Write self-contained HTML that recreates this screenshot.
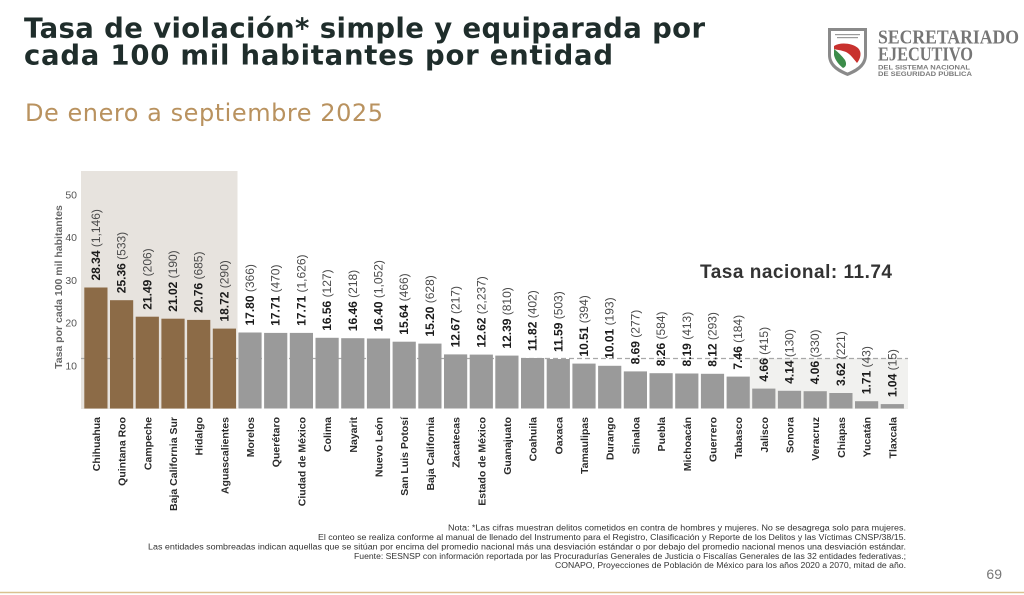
<!DOCTYPE html>
<html>
<head>
<meta charset="utf-8">
<style>
  html,body{margin:0;padding:0;background:#fff;}
  body{width:1024px;height:595px;overflow:hidden;}
  svg{display:block;}
</style>
</head>
<body>
<svg width="1024" height="595" viewBox="0 0 1024 595" xmlns="http://www.w3.org/2000/svg">
  <rect x="0" y="0" width="1024" height="595" fill="#ffffff"/>

  <!-- Title -->
  <text x="24" y="37.5" font-family="DejaVu Sans, Liberation Sans, sans-serif" font-weight="bold" font-size="27.5" fill="#1f2d2b" textLength="681" lengthAdjust="spacing">Tasa de violación* simple y equiparada por</text>
  <text x="24" y="64.5" font-family="DejaVu Sans, Liberation Sans, sans-serif" font-weight="bold" font-size="27.5" fill="#1f2d2b" textLength="589" lengthAdjust="spacing">cada 100 mil habitantes por entidad</text>
  <text x="25" y="121" font-family="DejaVu Sans, Liberation Sans, sans-serif" font-size="24" fill="#b9925f" textLength="358" lengthAdjust="spacing">De enero a septiembre 2025</text>

  <!-- Logo -->
  <path d="M828,28 H867 V55 C867,66 858,72 847.5,76 C837,72 828,66 828,55 Z" fill="#8a8a8a"/>
  <path d="M831,31 H864 V55 C864,64 856,69 847.5,72.5 C839,69 831,64 831,55 Z" fill="#ffffff"/>
  <rect x="835" y="34" width="25" height="1.2" fill="#9a9a9a"/>
  <rect x="837" y="37" width="21" height="1.2" fill="#9a9a9a"/>
  <path d="M834,46 C840,42 852,43 858,48 C862,52 861,58 857,63 C853,58 850,54 846,52 C841,50 837,50 834,49 Z" fill="#c8312e"/>
  <path d="M834,49 C838,52 842,56 845,60 C847,64 846,67 843,68 C839,65 835,60 834,55 Z" fill="#3c8c4a"/>
  <text x="878" y="43.5" font-family="Liberation Serif, serif" font-weight="bold" font-size="20" fill="#767676" textLength="141" lengthAdjust="spacingAndGlyphs">SECRETARIADO</text>
  <text x="878" y="60.5" font-family="Liberation Serif, serif" font-weight="bold" font-size="20" fill="#767676" textLength="95" lengthAdjust="spacingAndGlyphs">EJECUTIVO</text>
  <text x="878" y="69.5" font-family="Liberation Sans, sans-serif" font-weight="bold" font-size="6.2" fill="#7a7a7a" textLength="92" lengthAdjust="spacingAndGlyphs">DEL SISTEMA NACIONAL</text>
  <text x="878" y="76" font-family="Liberation Sans, sans-serif" font-weight="bold" font-size="6.2" fill="#7a7a7a" textLength="94" lengthAdjust="spacingAndGlyphs">DE SEGURIDAD PÚBLICA</text>

  <!-- Shaded regions -->
  <rect x="81" y="171" width="156.5" height="238" fill="#e7e3de"/>
  <rect x="750" y="358.5" width="158" height="50.5" fill="#f1f1ef"/>

  <!-- National dashed line -->
  <line x1="81" y1="358.5" x2="908" y2="358.5" stroke="#a8a8a8" stroke-width="1.3" stroke-dasharray="5,3"/>
  <text x="700" y="278" font-family="Liberation Sans, sans-serif" font-weight="bold" font-size="19" fill="#333333" textLength="192" lengthAdjust="spacing">Tasa nacional: 11.74</text>

  <!-- Y axis -->
  <g font-family="Liberation Sans, sans-serif" font-size="10.5" fill="#555555" text-anchor="end">
    <text x="77" y="369.3">10</text>
    <text x="77" y="326.6">20</text>
    <text x="77" y="283.9">30</text>
    <text x="77" y="241.2">40</text>
    <text x="77" y="198.5">50</text>
  </g>
  <text transform="translate(61.8,287) rotate(-90)" text-anchor="middle" font-family="Liberation Sans, sans-serif" font-weight="bold" font-size="10.5" fill="#666666">Tasa por cada 100 mil habitantes</text>

  <!-- Bars -->
  <g fill="#8c6b47">
    <rect x="84.3" y="287.5" width="23.2" height="121"/>
    <rect x="110.0" y="300.2" width="23.2" height="108.3"/>
    <rect x="135.7" y="316.7" width="23.2" height="91.8"/>
    <rect x="161.4" y="318.7" width="23.2" height="89.8"/>
    <rect x="187.1" y="319.9" width="23.2" height="88.6"/>
    <rect x="212.8" y="328.6" width="23.2" height="79.9"/>
  </g>
  <g fill="#9a9a9a">
    <rect x="238.4" y="332.5" width="23.2" height="76"/>
    <rect x="264.1" y="332.9" width="23.2" height="75.6"/>
    <rect x="289.8" y="332.9" width="23.2" height="75.6"/>
    <rect x="315.5" y="337.8" width="23.2" height="70.7"/>
    <rect x="341.2" y="338.2" width="23.2" height="70.3"/>
    <rect x="366.9" y="338.5" width="23.2" height="70"/>
    <rect x="392.6" y="341.7" width="23.2" height="66.8"/>
    <rect x="418.3" y="343.6" width="23.2" height="64.9"/>
    <rect x="444.0" y="354.4" width="23.2" height="54.1"/>
    <rect x="469.7" y="354.6" width="23.2" height="53.9"/>
    <rect x="495.3" y="355.6" width="23.2" height="52.9"/>
    <rect x="521.0" y="358.0" width="23.2" height="50.5"/>
    <rect x="546.7" y="359.0" width="23.2" height="49.5"/>
    <rect x="572.4" y="363.6" width="23.2" height="44.9"/>
    <rect x="598.1" y="365.8" width="23.2" height="42.7"/>
    <rect x="623.8" y="371.4" width="23.2" height="37.1"/>
    <rect x="649.5" y="373.2" width="23.2" height="35.3"/>
    <rect x="675.2" y="373.5" width="23.2" height="35"/>
    <rect x="700.9" y="373.8" width="23.2" height="34.7"/>
    <rect x="726.6" y="376.6" width="23.2" height="31.9"/>
    <rect x="752.2" y="388.6" width="23.2" height="19.9"/>
    <rect x="777.9" y="390.8" width="23.2" height="17.7"/>
    <rect x="803.6" y="391.2" width="23.2" height="17.3"/>
    <rect x="829.3" y="393.0" width="23.2" height="15.5"/>
    <rect x="855.0" y="401.2" width="23.2" height="7.3"/>
    <rect x="880.7" y="404.1" width="23.2" height="4.4"/>
  </g>

  <!-- Value labels -->
  <g font-family="Liberation Sans, sans-serif" font-size="12" fill="#4a4a4a">
    <text transform="translate(99.9,280.5) rotate(-90)"><tspan font-weight="bold" fill="#1a1a1a">28.34</tspan> (1,146)</text>
    <text transform="translate(125.6,293.2) rotate(-90)"><tspan font-weight="bold" fill="#1a1a1a">25.36</tspan> (533)</text>
    <text transform="translate(151.3,309.7) rotate(-90)"><tspan font-weight="bold" fill="#1a1a1a">21.49</tspan> (206)</text>
    <text transform="translate(177.0,311.7) rotate(-90)"><tspan font-weight="bold" fill="#1a1a1a">21.02</tspan> (190)</text>
    <text transform="translate(202.7,312.9) rotate(-90)"><tspan font-weight="bold" fill="#1a1a1a">20.76</tspan> (685)</text>
    <text transform="translate(228.4,321.6) rotate(-90)"><tspan font-weight="bold" fill="#1a1a1a">18.72</tspan> (290)</text>
    <text transform="translate(254.0,325.5) rotate(-90)"><tspan font-weight="bold" fill="#1a1a1a">17.80</tspan> (366)</text>
    <text transform="translate(279.7,325.9) rotate(-90)"><tspan font-weight="bold" fill="#1a1a1a">17.71</tspan> (470)</text>
    <text transform="translate(305.4,325.9) rotate(-90)"><tspan font-weight="bold" fill="#1a1a1a">17.71</tspan> (1,626)</text>
    <text transform="translate(331.1,330.8) rotate(-90)"><tspan font-weight="bold" fill="#1a1a1a">16.56</tspan> (127)</text>
    <text transform="translate(356.8,331.2) rotate(-90)"><tspan font-weight="bold" fill="#1a1a1a">16.46</tspan> (218)</text>
    <text transform="translate(382.5,331.5) rotate(-90)"><tspan font-weight="bold" fill="#1a1a1a">16.40</tspan> (1,052)</text>
    <text transform="translate(408.2,334.7) rotate(-90)"><tspan font-weight="bold" fill="#1a1a1a">15.64</tspan> (466)</text>
    <text transform="translate(433.9,336.6) rotate(-90)"><tspan font-weight="bold" fill="#1a1a1a">15.20</tspan> (628)</text>
    <text transform="translate(459.6,347.4) rotate(-90)"><tspan font-weight="bold" fill="#1a1a1a">12.67</tspan> (217)</text>
    <text transform="translate(485.3,347.6) rotate(-90)"><tspan font-weight="bold" fill="#1a1a1a">12.62</tspan> (2,237)</text>
    <text transform="translate(510.9,348.6) rotate(-90)"><tspan font-weight="bold" fill="#1a1a1a">12.39</tspan> (810)</text>
    <text transform="translate(536.6,351.0) rotate(-90)"><tspan font-weight="bold" fill="#1a1a1a">11.82</tspan> (402)</text>
    <text transform="translate(562.3,352.0) rotate(-90)"><tspan font-weight="bold" fill="#1a1a1a">11.59</tspan> (503)</text>
    <text transform="translate(588.0,356.6) rotate(-90)"><tspan font-weight="bold" fill="#1a1a1a">10.51</tspan> (394)</text>
    <text transform="translate(613.7,358.8) rotate(-90)"><tspan font-weight="bold" fill="#1a1a1a">10.01</tspan> (193)</text>
    <text transform="translate(639.4,364.4) rotate(-90)"><tspan font-weight="bold" fill="#1a1a1a">8.69</tspan> (277)</text>
    <text transform="translate(665.1,366.2) rotate(-90)"><tspan font-weight="bold" fill="#1a1a1a">8.26</tspan> (584)</text>
    <text transform="translate(690.8,366.5) rotate(-90)"><tspan font-weight="bold" fill="#1a1a1a">8.19</tspan> (413)</text>
    <text transform="translate(716.5,366.8) rotate(-90)"><tspan font-weight="bold" fill="#1a1a1a">8.12</tspan> (293)</text>
    <text transform="translate(742.2,369.6) rotate(-90)"><tspan font-weight="bold" fill="#1a1a1a">7.46</tspan> (184)</text>
    <text transform="translate(767.8,381.6) rotate(-90)"><tspan font-weight="bold" fill="#1a1a1a">4.66</tspan> (415)</text>
    <text transform="translate(793.5,383.8) rotate(-90)"><tspan font-weight="bold" fill="#1a1a1a">4.14</tspan> (130)</text>
    <text transform="translate(819.2,384.2) rotate(-90)"><tspan font-weight="bold" fill="#1a1a1a">4.06</tspan> (330)</text>
    <text transform="translate(844.9,386.0) rotate(-90)"><tspan font-weight="bold" fill="#1a1a1a">3.62</tspan> (221)</text>
    <text transform="translate(870.6,394.2) rotate(-90)"><tspan font-weight="bold" fill="#1a1a1a">1.71</tspan> (43)</text>
    <text transform="translate(896.3,397.1) rotate(-90)"><tspan font-weight="bold" fill="#1a1a1a">1.04</tspan> (15)</text>
  </g>

  <!-- Category labels -->
  <g font-family="Liberation Sans, sans-serif" font-size="10.5" font-weight="bold" fill="#2a2a2a" text-anchor="end">
    <text transform="translate(99.9,417) rotate(-90)">Chihuahua</text>
    <text transform="translate(125.6,417) rotate(-90)">Quintana Roo</text>
    <text transform="translate(151.3,417) rotate(-90)">Campeche</text>
    <text transform="translate(177.0,417) rotate(-90)">Baja California Sur</text>
    <text transform="translate(202.7,417) rotate(-90)">Hidalgo</text>
    <text transform="translate(228.4,417) rotate(-90)">Aguascalientes</text>
    <text transform="translate(254.0,417) rotate(-90)">Morelos</text>
    <text transform="translate(279.7,417) rotate(-90)">Querétaro</text>
    <text transform="translate(305.4,417) rotate(-90)">Ciudad de México</text>
    <text transform="translate(331.1,417) rotate(-90)">Colima</text>
    <text transform="translate(356.8,417) rotate(-90)">Nayarit</text>
    <text transform="translate(382.5,417) rotate(-90)">Nuevo León</text>
    <text transform="translate(408.2,417) rotate(-90)">San Luis Potosí</text>
    <text transform="translate(433.9,417) rotate(-90)">Baja California</text>
    <text transform="translate(459.6,417) rotate(-90)">Zacatecas</text>
    <text transform="translate(485.3,417) rotate(-90)">Estado de México</text>
    <text transform="translate(510.9,417) rotate(-90)">Guanajuato</text>
    <text transform="translate(536.6,417) rotate(-90)">Coahuila</text>
    <text transform="translate(562.3,417) rotate(-90)">Oaxaca</text>
    <text transform="translate(588.0,417) rotate(-90)">Tamaulipas</text>
    <text transform="translate(613.7,417) rotate(-90)">Durango</text>
    <text transform="translate(639.4,417) rotate(-90)">Sinaloa</text>
    <text transform="translate(665.1,417) rotate(-90)">Puebla</text>
    <text transform="translate(690.8,417) rotate(-90)">Michoacán</text>
    <text transform="translate(716.5,417) rotate(-90)">Guerrero</text>
    <text transform="translate(742.2,417) rotate(-90)">Tabasco</text>
    <text transform="translate(767.8,417) rotate(-90)">Jalisco</text>
    <text transform="translate(793.5,417) rotate(-90)">Sonora</text>
    <text transform="translate(819.2,417) rotate(-90)">Veracruz</text>
    <text transform="translate(844.9,417) rotate(-90)">Chiapas</text>
    <text transform="translate(870.6,417) rotate(-90)">Yucatán</text>
    <text transform="translate(896.3,417) rotate(-90)">Tlaxcala</text>
  </g>

  <!-- Notes -->
  <g font-family="Liberation Sans, sans-serif" font-size="8" fill="#333333" text-anchor="end">
    <text x="906" y="530.5" textLength="458" lengthAdjust="spacingAndGlyphs">Nota: *Las cifras muestran delitos cometidos en contra de hombres y mujeres. No se desagrega solo para mujeres.</text>
    <text x="906" y="540" textLength="588" lengthAdjust="spacingAndGlyphs">El conteo se realiza conforme al manual de llenado del Instrumento para el Registro, Clasificación y Reporte de los Delitos y las Víctimas CNSP/38/15.</text>
    <text x="906" y="549.5" textLength="758" lengthAdjust="spacingAndGlyphs">Las entidades sombreadas indican aquellas que se sitúan por encima del promedio nacional más una desviación estándar o por debajo del promedio nacional menos una desviación estándar.</text>
    <text x="906" y="559" textLength="552" lengthAdjust="spacingAndGlyphs">Fuente: SESNSP con información reportada por las Procuradurías Generales de Justicia o Fiscalías Generales de las 32 entidades federativas.;</text>
    <text x="906" y="568" textLength="351" lengthAdjust="spacingAndGlyphs">CONAPO, Proyecciones de Población de México para los años 2020 a 2070, mitad de año.</text>
  </g>

  <!-- Page number -->
  <text x="1002" y="579" text-anchor="end" font-family="Liberation Sans, sans-serif" font-size="14" fill="#777777">69</text>

  <!-- Bottom gold line -->
  <line x1="0" y1="592.5" x2="1024" y2="592.5" stroke="#d9c190" stroke-width="1.5"/>
</svg>
</body>
</html>
